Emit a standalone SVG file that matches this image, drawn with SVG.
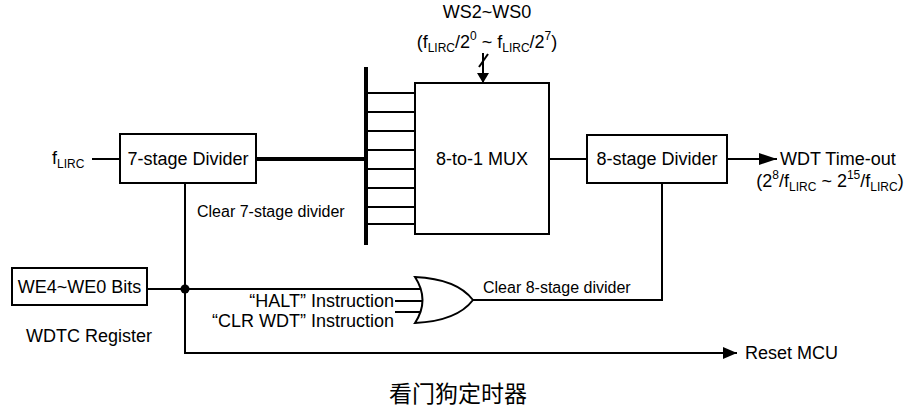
<svg xmlns="http://www.w3.org/2000/svg" width="914" height="410" viewBox="0 0 914 410">
<defs>
<style>
text{font-family:"Liberation Sans",Arial,sans-serif;fill:#000}
.lbl{font-size:18px}
.sm{font-size:16px}
.sub{font-size:12px}
.box{fill:#fff;stroke:#000;stroke-width:2}
.ln{fill:none;stroke:#000;stroke-width:2}
.thick{fill:none;stroke:#000;stroke-width:4}
.cjk{font-family:"Liberation Sans","Noto Sans CJK SC",sans-serif;font-size:23px}
</style>
<marker id="ah" viewBox="0 0 10 12" refX="10" refY="6" markerWidth="10" markerHeight="12" markerUnits="userSpaceOnUse" orient="auto">
<path d="M0,0 L10,6 L0,12 Z" fill="#000"/>
</marker>
<marker id="ah2" viewBox="0 0 18 12" refX="18" refY="6" markerWidth="18" markerHeight="12" markerUnits="userSpaceOnUse" orient="auto">
<path d="M0,0 L18,6 L0,12 Z" fill="#000"/>
</marker>
<marker id="ah3" viewBox="0 0 14 12" refX="14" refY="6" markerWidth="14" markerHeight="12" markerUnits="userSpaceOnUse" orient="auto">
<path d="M0,0 L14,6 L0,12 Z" fill="#000"/>
</marker>
</defs>
<rect width="914" height="410" fill="#fff"/>

<g id="connectors">
<line class="ln" x1="92" y1="159" x2="120" y2="159"/>
<line class="thick" x1="256" y1="159" x2="366" y2="159"/>
<line class="thick" x1="366" y1="67" x2="366" y2="245"/>
<g class="ln">
<line x1="366" y1="93" x2="415" y2="93"/>
<line x1="366" y1="112" x2="415" y2="112"/>
<line x1="366" y1="131" x2="415" y2="131"/>
<line x1="366" y1="150" x2="415" y2="150"/>
<line x1="366" y1="169" x2="415" y2="169"/>
<line x1="366" y1="188" x2="415" y2="188"/>
<line x1="366" y1="207" x2="415" y2="207"/>
<line x1="366" y1="224" x2="415" y2="224"/>
</g>
<line class="ln" x1="483" y1="53" x2="483" y2="83" marker-end="url(#ah)"/>
<line class="ln" x1="479" y1="67" x2="488" y2="54"/>
<line class="ln" x1="549" y1="159" x2="587" y2="159"/>
<line class="ln" x1="727" y1="159" x2="777" y2="159" marker-end="url(#ah2)"/>
<polyline class="ln" points="185,183 185,353 737,353" marker-end="url(#ah3)"/>
<line class="ln" x1="147" y1="289" x2="421" y2="289"/>
<circle cx="185" cy="289" r="4.5" fill="#000"/>
<line class="ln" x1="395" y1="301" x2="424" y2="301"/>
<line class="ln" x1="395" y1="312" x2="422" y2="312"/>
<polyline class="ln" points="473,300 662,300 662,183"/>
</g>

<g id="n-7stage">
<rect class="box" x="120" y="134" width="136" height="49"/>
<text class="lbl" x="188" y="165" text-anchor="middle">7-stage Divider</text>
</g>
<g id="n-mux">
<rect class="box" x="415" y="83" width="134" height="151"/>
<text class="lbl" x="482" y="165" text-anchor="middle">8-to-1 MUX</text>
</g>
<g id="n-8stage">
<rect class="box" x="587" y="135" width="140" height="48"/>
<text class="lbl" x="657" y="165" text-anchor="middle">8-stage Divider</text>
</g>
<g id="n-we">
<rect class="box" x="12" y="268" width="135" height="37"/>
<text class="lbl" x="79.5" y="293" text-anchor="middle">WE4~WE0 Bits</text>
<text class="lbl" x="89" y="342" text-anchor="middle">WDTC Register</text>
</g>
<g id="n-or">
<path class="box" d="M415,277 Q430,300 415,323 Q457,321 473,300 Q457,279 415,277 Z"/>
</g>

<g id="labels">
<text class="lbl" x="52" y="164">f<tspan class="sub" dy="4">LIRC</tspan></text>
<text class="lbl" x="487" y="18" text-anchor="middle">WS2~WS0</text>
<text class="lbl" x="487" y="48" text-anchor="middle">(f<tspan class="sub" dy="4">LIRC</tspan><tspan dy="-4">/2</tspan><tspan class="sub" dy="-8">0</tspan><tspan dy="8"> ~ f</tspan><tspan class="sub" dy="4">LIRC</tspan><tspan dy="-4">/2</tspan><tspan class="sub" dy="-8">7</tspan><tspan dy="8">)</tspan></text>
<text class="lbl" x="780" y="165">WDT Time-out</text>
<text class="lbl" x="830" y="187" text-anchor="middle">(2<tspan class="sub" dy="-8">8</tspan><tspan dy="8">/f</tspan><tspan class="sub" dy="4">LIRC</tspan><tspan dy="-4"> ~ 2</tspan><tspan class="sub" dy="-8">15</tspan><tspan dy="8">/f</tspan><tspan class="sub" dy="4">LIRC</tspan><tspan dy="-4">)</tspan></text>
<text class="sm" x="197" y="217">Clear 7-stage divider</text>
<text class="sm" x="483" y="293">Clear 8-stage divider</text>
<text class="lbl" x="394" y="307" text-anchor="end">“HALT” Instruction</text>
<text class="lbl" x="394" y="327" text-anchor="end">“CLR WDT” Instruction</text>
<text class="lbl" x="745" y="359">Reset MCU</text>
<text class="cjk" x="458" y="402" text-anchor="middle">看门狗定时器</text>
</g>
</svg>
